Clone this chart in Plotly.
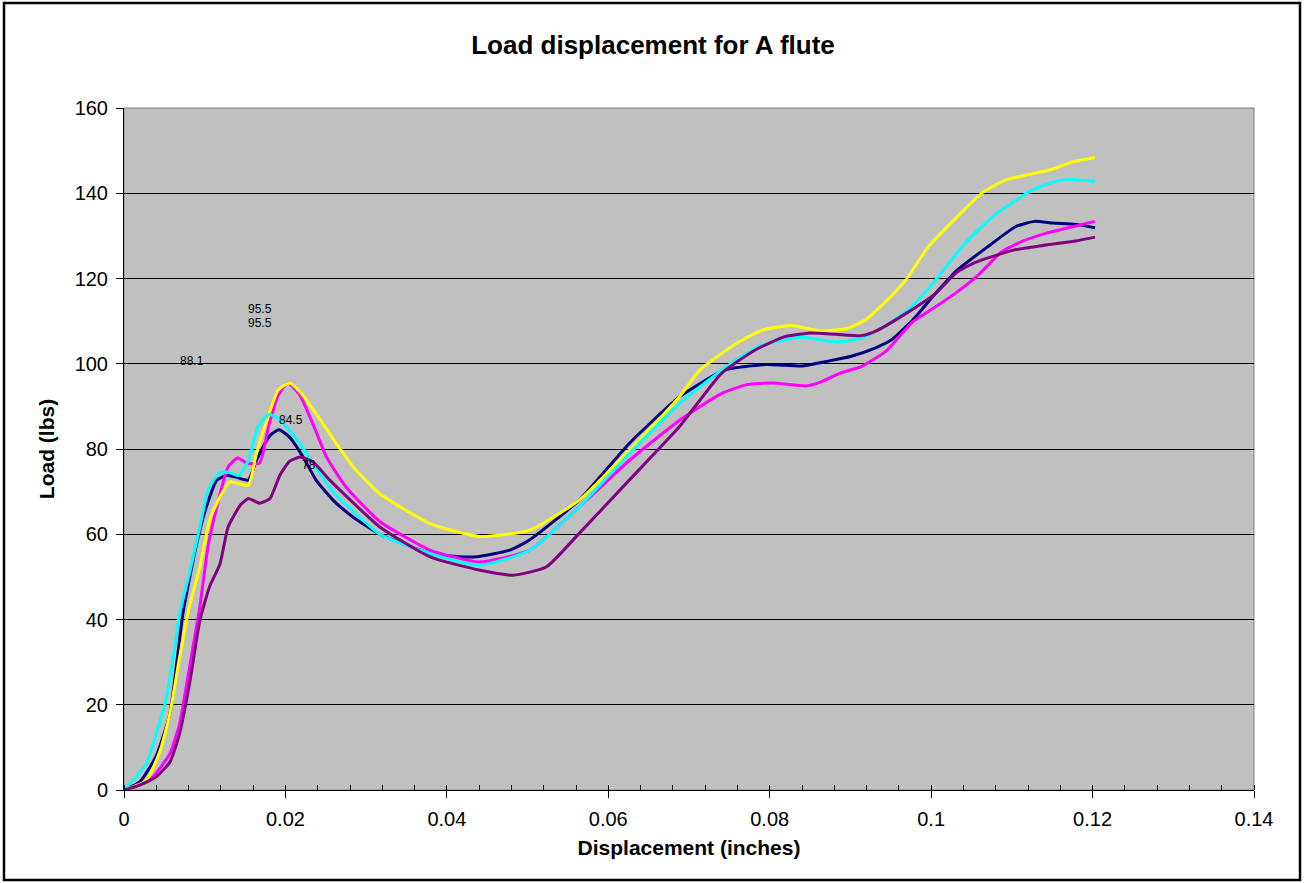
import plotly.graph_objects as go

# ---- data ----
navy_x = [0, 0.002, 0.004, 0.0057, 0.0073, 0.009, 0.0102, 0.0115, 0.0127, 0.0139, 0.0154, 0.0164, 0.0181,
          0.0192, 0.0205, 0.0222, 0.0238, 0.0259, 0.0284, 0.0317, 0.0379, 0.0416, 0.044, 0.0477, 0.0502,
          0.0564, 0.0626, 0.0688, 0.0745, 0.0795, 0.0841, 0.0872, 0.09, 0.0932, 0.095, 0.0977, 0.1005,
          0.1032, 0.1069, 0.1105, 0.1128, 0.1151, 0.1179, 0.1203]
navy_y = [0, 2, 8, 18, 41.4, 57.8, 66.4, 72.7, 73.8, 73.4, 72.7, 77.3, 83.2,
          84.5, 82.8, 78.1, 72.7, 68, 64, 60, 55.5, 54.7, 54.8, 56.2, 58.6,
          68, 81.3, 92.2, 98.6, 99.8, 99.5, 100.6, 101.7, 103.8, 105.5, 110.2, 116.4,
          121.9, 127.3, 132.2, 133.4, 133, 132.7, 131.9]

magenta_x = [0, 0.002, 0.0036, 0.0057, 0.0069, 0.0082, 0.0094, 0.0104, 0.0115, 0.0129, 0.0141, 0.0152,
             0.0168, 0.0179, 0.0191, 0.0203, 0.0218, 0.0234, 0.0251, 0.0275, 0.0317, 0.0379, 0.044,
             0.0502, 0.0564, 0.0626, 0.0688, 0.074, 0.0772, 0.0804, 0.0845, 0.0863, 0.0886, 0.0914,
             0.0945, 0.0977, 0.1005, 0.1032, 0.106, 0.1087, 0.1115, 0.1142, 0.117, 0.1203]
magenta_y = [0, 1.2, 3.1, 8.6, 15.6, 29.7, 43, 57, 66.4, 75.8, 77.9, 76.7,
             76.7, 85.2, 92.6, 95.5, 92.6, 85.9, 78.1, 71.1, 63, 56.3, 53.5,
             56.2, 66.4, 77.3, 86.7, 93, 95.1, 95.5, 94.8, 95.7, 97.7, 99.4,
             103.1, 109.8, 113.3, 116.8, 121.1, 126.2, 128.9, 130.6, 131.9, 133.4]

yellow_x = [0, 0.0028, 0.0045, 0.0057, 0.0069, 0.0082, 0.0094, 0.0106, 0.0119, 0.0131, 0.0154, 0.0164,
            0.0177, 0.0191, 0.0205, 0.0218, 0.0238, 0.0263, 0.0284, 0.0317, 0.0379, 0.044, 0.0502,
            0.0564, 0.0626, 0.0688, 0.0713, 0.0758, 0.079, 0.0827, 0.0863, 0.0895, 0.0918, 0.0941,
            0.0968, 0.0996, 0.1032, 0.1064, 0.1092, 0.1124, 0.1151, 0.1174, 0.1203]
yellow_y = [0, 2.3, 9.4, 18, 31.3, 43.8, 52.3, 63.3, 68.8, 72.3, 71.5, 78.9,
            86.7, 93.8, 95.5, 93.4, 88.3, 81.3, 75.8, 69.5, 62.5, 59.5, 60.9,
            68, 79.7, 92.2, 98.4, 104.7, 107.8, 109, 107.7, 108.2, 110.2, 114.1,
            119.5, 127.3, 134.4, 140.2, 143.1, 144.5, 145.7, 147.3, 148.4]

cyan_x = [0, 0.0028, 0.004, 0.0051, 0.0061, 0.0069, 0.0082, 0.0094, 0.0104, 0.0117, 0.0129, 0.0142,
          0.0154, 0.0166, 0.0179, 0.0189, 0.0201, 0.0218, 0.0234, 0.0259, 0.0317, 0.0379, 0.044,
          0.0502, 0.0564, 0.0626, 0.0688, 0.0713, 0.0758, 0.079, 0.0841, 0.0863, 0.0886, 0.0914,
          0.0941, 0.0973, 0.1005, 0.1041, 0.1078, 0.1124, 0.1151, 0.117, 0.1203]
cyan_y = [0, 6.25, 13.3, 20.3, 31, 41.4, 51.6, 61.7, 70.3, 74.2, 74.6, 73.8,
          77.3, 85.2, 88.1, 87.5, 85.2, 81.3, 76.6, 70, 60, 55.5, 52.7,
          56.2, 66.4, 78.9, 90.6, 94.5, 100.8, 104.3, 106.3, 105.6, 105.1, 106,
          108.6, 112.9, 119.5, 128.1, 134.8, 140.6, 142.6, 143.2, 142.8]

purple_x = [0, 0.002, 0.004, 0.0057, 0.0069, 0.0082, 0.0094, 0.0106, 0.0119, 0.0129, 0.0144, 0.0154,
            0.0168, 0.0181, 0.0193, 0.0205, 0.0218, 0.0234, 0.0255, 0.0317, 0.0379, 0.044, 0.0482,
            0.0523, 0.0564, 0.0626, 0.0688, 0.074, 0.0781, 0.0818, 0.085, 0.0882, 0.0914, 0.0932,
            0.0968, 0.1005, 0.1032, 0.1055, 0.1101, 0.1147, 0.1179, 0.1203]
purple_y = [0, 1.2, 3.1, 6.6, 13.3, 25.8, 39.8, 47.7, 53.1, 61.7, 66.8, 68.4,
            67.3, 68.4, 73.8, 77.1, 78.1, 77, 72.7, 61.7, 54.7, 51.6, 50.4,
            52.3, 60.2, 72.7, 85.2, 97.7, 103.1, 106.3, 107.2, 106.9, 106.6, 107.7,
            111.7, 116.4, 121.5, 123.8, 126.6, 128, 128.8, 129.7]

# data labels (peak values) and where they sit
label_text = ["88.1", "95.5", "95.5", "84.5", "78"]
label_x = [0.00839, 0.01681, 0.01681, 0.02073, 0.02292]
label_y = [100.65, 112.8, 109.5, 86.8, 76.2]

x_ticks = [0, 0.02, 0.04, 0.06, 0.08, 0.1, 0.12, 0.14]
y_ticks = [0, 20, 40, 60, 80, 100, 120, 140, 160]

FONT = "Arial, 'Liberation Sans', sans-serif"

series = [
    (navy_x, navy_y, "#000080"),
    (magenta_x, magenta_y, "#FF00FF"),
    (yellow_x, yellow_y, "#FFFF00"),
    (cyan_x, cyan_y, "#00FFFF"),
    (purple_x, purple_y, "#800080"),
]

fig = go.Figure()
for xs, ys, col in series:
    fig.add_trace(go.Scatter(x=xs, y=ys, mode="lines",
                             line=dict(color=col, width=3, shape="spline", smoothing=0.5),
                             hoverinfo="skip", showlegend=False))

for t, xx, yy in zip(label_text, label_x, label_y):
    fig.add_annotation(x=xx, y=yy, xref="x", yref="y", text=t, showarrow=False,
                       font=dict(family=FONT, size=12, color="#000000"))

# plot-area border (gray) and outer chart border (black)
fig.add_shape(type="rect", xref="paper", yref="paper", x0=0, x1=1, y0=0, y1=1,
              line=dict(color="#808080", width=1), layer="below")
fig.add_shape(type="rect", xref="paper", yref="paper",
              x0=(4 - 124) / 1130, x1=(1300 - 124) / 1130,
              y0=(790 - 880) / 682, y1=(790 - 3) / 682,
              line=dict(color="#000000", width=2.5))

fig.update_layout(
    width=1306, height=883,
    margin=dict(l=124, r=52, t=108, b=93),
    paper_bgcolor="#FFFFFF", plot_bgcolor="#C0C0C0",
    font=dict(family=FONT, color="#000000"),
    title=dict(text="<b>Load displacement for A flute</b>", x=0.5, xref="container",
               y=1 - 45 / 883, yref="container", xanchor="center", yanchor="middle",
               font=dict(family=FONT, size=26, color="#000000")),
    showlegend=False,
)
fig.update_xaxes(
    range=[0, 0.14], tickvals=x_ticks, ticktext=[f"{v:g}" for v in x_ticks],
    showgrid=False, zeroline=False,
    showline=True, linecolor="#000000", linewidth=1,
    ticks="outside", ticklen=7, tickcolor="#000000", ticklabelstandoff=4,
    minor=dict(dtick=0.004, tick0=0, ticks="inside", ticklen=5, tickcolor="#000000", showgrid=False),
    tickfont=dict(family=FONT, size=20, color="#000000"),
    title=dict(text="<b>Displacement (inches)</b>", font=dict(family=FONT, size=21, color="#000000"),
               standoff=11),
)
fig.update_yaxes(
    range=[0, 160], tickvals=y_ticks, ticktext=[str(v) for v in y_ticks],
    showgrid=True, gridcolor="#000000", gridwidth=1, zeroline=False,
    showline=True, linecolor="#000000", linewidth=1,
    ticks="outside", ticklen=7, tickcolor="#000000", ticklabelstandoff=4,
    tickfont=dict(family=FONT, size=20, color="#000000"),
    title=dict(text="<b>Load (lbs)</b>", font=dict(family=FONT, size=21, color="#000000"),
               standoff=14),
)

fig.write_html("out.html", config={"displayModeBar": False},
               post_script="document.body.style.margin='0';document.body.style.overflow='hidden';")
